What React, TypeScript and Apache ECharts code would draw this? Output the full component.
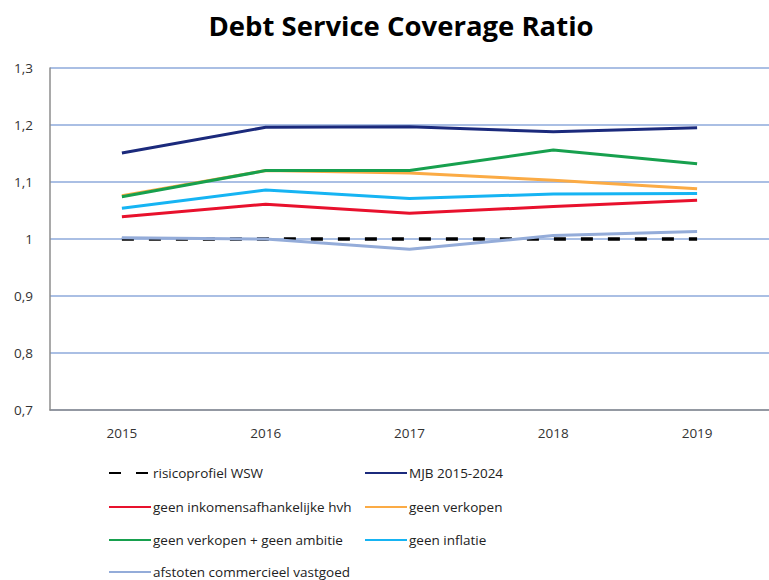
import React, { useEffect, useRef } from "react";
import * as echarts from "echarts";

const years = ["2015", "2016", "2017", "2018", "2019"];
const yTicks = [0.7, 0.8, 0.9, 1.0, 1.1, 1.2, 1.3];

const risicoprofielWSW = [1.0, 1.0, 1.0, 1.0, 1.0];
const mjb = [1.151, 1.196, 1.197, 1.188, 1.195];
const geenInkomens = [1.039, 1.061, 1.045, 1.057, 1.068];
const geenVerkopen = [1.076, 1.12, 1.116, 1.103, 1.088];
const geenVerkopenAmbitie = [1.074, 1.12, 1.12, 1.156, 1.132];
const geenInflatie = [1.054, 1.086, 1.071, 1.079, 1.08];
const afstoten = [1.002, 1.0, 0.982, 1.006, 1.013];

const names = [
  "risicoprofiel WSW",
  "MJB 2015-2024",
  "geen inkomensafhankelijke hvh",
  "geen verkopen",
  "geen verkopen + geen ambitie",
  "geen inflatie",
  "afstoten commercieel vastgoed",
];

export default function App() {
  const ref = useRef<HTMLDivElement>(null);
  useEffect(() => {
    document.body.style.margin = "0";
    if (!ref.current) return;
    const chart = echarts.init(ref.current, null, { renderer: "svg" });
    const font = "'Open Sans', sans-serif";
    const mk = (name: string, data: number[], color: string, dashed = false) => ({
      name,
      type: "line",
      data,
      symbol: "none",
      smooth: false,
      lineStyle: { color, width: dashed ? 3.5 : 3, type: dashed ? [12, 15] : "solid" },
      itemStyle: { color },
    });
    const colX = [108, 364];
    const rowY = [473, 507, 540, 572];
    const legends = names.map((n, i) => ({
      orient: "horizontal",
      left: colX[i % 2],
      top: rowY[Math.floor(i / 2)] - 7,
      padding: 0,
      itemWidth: 42,
      itemHeight: 4,
      itemStyle: { opacity: 0 },
      textStyle: { fontFamily: font, fontSize: 13.5, color: "#222", padding: [0, 0, 0, -3] },
      data: [n],
    }));
    chart.setOption({
      animation: false,
      backgroundColor: "#ffffff",
      title: {
        text: "Debt Service Coverage Ratio",
        left: 396,
        textAlign: "center",
        top: 6,
        textStyle: { fontFamily: font, fontSize: 27.5, fontWeight: "bold", color: "#000" },
      },
      grid: { left: 50, right: -13, top: 68, bottom: 170, containLabel: false },
      xAxis: {
        type: "category",
        data: years,
        boundaryGap: true,
        axisLine: { lineStyle: { color: "#8c8c8c", width: 1.5 } },
        axisTick: { inside: true, length: 8, lineStyle: { color: "#8c8c8c" } },
        axisLabel: { fontFamily: font, fontSize: 13.5, color: "#333", margin: 16 },
      },
      yAxis: {
        type: "value",
        min: yTicks[0],
        max: yTicks[yTicks.length - 1],
        interval: 0.1,
        axisLine: { show: true, lineStyle: { color: "#8c8c8c", width: 1.5 } },
        axisTick: { show: false },
        splitLine: { lineStyle: { color: "#8eaadb", width: 1.5 } },
        axisLabel: {
          fontFamily: font,
          fontSize: 13.5,
          color: "#333",
          margin: 17,
          formatter: (v: number) => {
            const r = Math.round(v * 10) / 10;
            return r === 1 ? "1" : r.toFixed(1).replace(".", ",");
          },
        },
      },
      legend: legends,
      series: [
        mk(names[0], risicoprofielWSW, "#000000", true),
        mk(names[1], mjb, "#1b2a7c"),
        mk(names[2], geenInkomens, "#e8112d"),
        mk(names[3], geenVerkopen, "#fbab45"),
        mk(names[4], geenVerkopenAmbitie, "#17a04e"),
        mk(names[5], geenInflatie, "#16b4f3"),
        mk(names[6], afstoten, "#94acd9"),
      ],
    });
    return () => chart.dispose();
  }, []);
  return <div ref={ref} style={{ width: 769, height: 580 }} />;
}
